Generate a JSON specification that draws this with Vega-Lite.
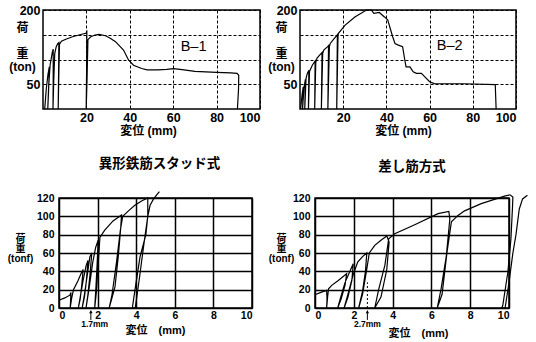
{
  "$schema": "https://vega.github.io/schema/vega-lite/v6.json",
  "autosize": {"type": "none"},
  "padding": {"left": 43, "top": 10, "right": 493, "bottom": 332},
  "background": "white",
  "config": {
    "view": {"stroke": "black", "strokeWidth": 1.5},
    "axis": {"domain": false, "ticks": false, "grid": true, "tickCount": 20, "format": "d", "labelOverlap": false, "labelColor": "black", "titleColor": "black", "gridColor": "black", "gridOpacity": 1, "labelFont": "Liberation Sans", "labelFontWeight": "bold", "titleFont": "Liberation Sans, Noto Sans CJK JP", "titleFontWeight": "bold"}
  },
  "datasets": {
    "b1": [
      {"x":0.8,"y":0},{"x":1.5,"y":40},{"x":2.3,"y":70},{"x":2.9,"y":85},{"x":2.6,"y":40},{"x":2.2,"y":0},{"x":2.6,"y":45},{"x":3.3,"y":90},{"x":3.8,"y":102},{"x":4.3,"y":115},{"x":4.7,"y":121},{"x":4.7,"y":60},{"x":4.6,"y":0},{"x":4.9,"y":50},{"x":5.4,"y":112},{"x":6.1,"y":126},{"x":6.8,"y":132},{"x":7.3,"y":134},{"x":7.2,"y":80},{"x":7.0,"y":0},{"x":7.3,"y":70},{"x":7.6,"y":131},{"x":8.5,"y":137},{"x":10.5,"y":141},{"x":13.6,"y":146},{"x":17,"y":150},{"x":19.7,"y":153},{"x":20.2,"y":156},{"x":20.1,"y":80},{"x":19.9,"y":0},{"x":20.3,"y":60},{"x":20.7,"y":140},{"x":22,"y":146},{"x":24,"y":149.5},{"x":25.8,"y":150.7},{"x":28.8,"y":148},{"x":31,"y":143},{"x":33.4,"y":136},{"x":37.1,"y":119},{"x":39.4,"y":99},{"x":41.7,"y":88.5},{"x":45.5,"y":81.8},{"x":48,"y":79},{"x":53,"y":79},{"x":57,"y":80},{"x":60.2,"y":81.5},{"x":65,"y":79},{"x":70,"y":76},{"x":80,"y":74},{"x":86.5,"y":73},{"x":89.4,"y":72},{"x":90.2,"y":68},{"x":90.1,"y":40},{"x":89.6,"y":0}
    ],
    "b2": [
      {"x":0.3,"y":0},{"x":1,"y":30},{"x":1.5,"y":45},{"x":1.2,"y":0},{"x":1.8,"y":42},{"x":2.5,"y":60},{"x":2.2,"y":0},{"x":2.8,"y":62},{"x":3.4,"y":72},{"x":4.1,"y":78},{"x":3.9,"y":0},{"x":4.4,"y":76},{"x":5.7,"y":88.5},{"x":7.0,"y":97},{"x":6.8,"y":0},{"x":7.3,"y":94},{"x":7.9,"y":103},{"x":9.5,"y":111},{"x":10.2,"y":114},{"x":9.9,"y":0},{"x":10.5,"y":112},{"x":11,"y":119},{"x":12.8,"y":126},{"x":13.2,"y":128},{"x":12.9,"y":0},{"x":13.6,"y":126},{"x":14,"y":132.5},{"x":16,"y":143},{"x":17.3,"y":150},{"x":17,"y":0},{"x":17.6,"y":148},{"x":17.8,"y":152.8},{"x":20.9,"y":169.6},{"x":25.4,"y":186},{"x":30.8,"y":200},{"x":33,"y":200},{"x":34.2,"y":193},{"x":36.7,"y":195},{"x":39.1,"y":186},{"x":40.6,"y":180},{"x":42.9,"y":146},{"x":44,"y":132},{"x":45.5,"y":129},{"x":47.5,"y":126},{"x":48.4,"y":102},{"x":49.1,"y":85},{"x":50.9,"y":85},{"x":52.4,"y":75},{"x":53.9,"y":72},{"x":56.2,"y":72},{"x":57.8,"y":65},{"x":60,"y":55},{"x":62.2,"y":51.4},{"x":76,"y":51},{"x":90.4,"y":49.4},{"x":90.8,"y":0}
    ],
    "p3": [
      {"x":0,"y":8.4},{"x":0.3,"y":11},{"x":0.56,"y":14},{"x":0.62,"y":17},{"x":0.6,"y":8},{"x":0.58,"y":0},{"x":0.65,"y":10},{"x":0.75,"y":20},{"x":0.99,"y":30},{"x":1.15,"y":38},{"x":1.25,"y":42},{"x":1.18,"y":25},{"x":1.1,"y":10},{"x":1.0,"y":0},{"x":1.1,"y":12},{"x":1.25,"y":30},{"x":1.4,"y":46},{"x":1.5,"y":52},{"x":1.42,"y":30},{"x":1.32,"y":12},{"x":1.2,"y":0},{"x":1.32,"y":15},{"x":1.48,"y":38},{"x":1.6,"y":56},{"x":1.7,"y":60},{"x":1.6,"y":35},{"x":1.5,"y":15},{"x":1.4,"y":0},{"x":1.55,"y":20},{"x":1.75,"y":50},{"x":1.9,"y":66},{"x":2.03,"y":74},{"x":1.98,"y":50},{"x":1.92,"y":25},{"x":1.85,"y":0},{"x":1.95,"y":20},{"x":2.05,"y":55},{"x":2.12,"y":77},{"x":2.37,"y":85},{"x":2.8,"y":95},{"x":3.24,"y":101.4},{"x":3.2,"y":88},{"x":3.07,"y":56},{"x":2.9,"y":23},{"x":2.6,"y":0},{"x":2.75,"y":15},{"x":2.98,"y":50},{"x":3.18,"y":85},{"x":3.3,"y":100},{"x":3.6,"y":106},{"x":3.93,"y":112},{"x":4.3,"y":117},{"x":4.6,"y":120},{"x":4.6,"y":100},{"x":4.5,"y":80},{"x":4.2,"y":56},{"x":3.93,"y":19},{"x":3.8,"y":0},{"x":3.95,"y":0},{"x":4.15,"y":30},{"x":4.4,"y":70},{"x":4.6,"y":100},{"x":4.72,"y":112},{"x":4.9,"y":119},{"x":5.2,"y":127}
    ],
    "p4": [
      {"x":0,"y":14.5},{"x":0.3,"y":17},{"x":0.6,"y":19.2},{"x":0.62,"y":10},{"x":0.6,"y":0},{"x":0.65,"y":12},{"x":0.7,"y":21},{"x":0.86,"y":24.7},{"x":1.2,"y":30},{"x":1.63,"y":37.4},{"x":1.55,"y":25},{"x":1.35,"y":10},{"x":1.17,"y":0},{"x":1.3,"y":10},{"x":1.55,"y":28},{"x":1.8,"y":40},{"x":1.97,"y":48.3},{"x":1.9,"y":30},{"x":1.7,"y":12},{"x":1.5,"y":0},{"x":1.7,"y":15},{"x":1.95,"y":35},{"x":2.2,"y":50},{"x":2.45,"y":56},{"x":2.67,"y":60},{"x":2.6,"y":40},{"x":2.45,"y":18},{"x":2.25,"y":0},{"x":2.45,"y":15},{"x":2.65,"y":40},{"x":2.8,"y":60},{"x":3.08,"y":68.3},{"x":3.4,"y":74},{"x":3.7,"y":78.5},{"x":3.82,"y":72},{"x":3.7,"y":42},{"x":3.4,"y":12},{"x":3.08,"y":0},{"x":3.28,"y":20},{"x":3.6,"y":46.5},{"x":3.8,"y":75.6},{"x":4.11,"y":81},{"x":5.14,"y":90.9},{"x":6.34,"y":102.9},{"x":6.9,"y":105.4},{"x":6.95,"y":97},{"x":6.77,"y":57},{"x":6.5,"y":21},{"x":6.3,"y":0},{"x":6.55,"y":15},{"x":6.8,"y":60},{"x":7.03,"y":94},{"x":7.37,"y":101},{"x":7.71,"y":106},{"x":8.57,"y":113.8},{"x":9.77,"y":122},{"x":10.05,"y":123.5},{"x":10.2,"y":121},{"x":10.18,"y":110},{"x":10.1,"y":75.6},{"x":9.94,"y":39},{"x":9.68,"y":3},{"x":9.63,"y":0},{"x":9.8,"y":0},{"x":10.0,"y":28},{"x":10.2,"y":60},{"x":10.36,"y":80},{"x":10.53,"y":108},{"x":10.7,"y":119},{"x":10.95,"y":123}
    ]
  },
  "spacing": 0,
  "bounds": "flush",
  "vconcat": [
    {
      "spacing": 40,
      "bounds": "flush",
      "hconcat": [
        {
          "width": 217, "height": 99,
          "layer": [
            {
              "data": {"name": "b1"},
              "mark": {"type": "line", "color": "black", "strokeWidth": 1.2},
              "encoding": {
                "x": {"field": "x", "type": "quantitative", "scale": {"domain": [0, 100], "nice": false, "zero": false},
                  "axis": {"values": [20, 40, 60, 80, 100], "tickCount": 20, "gridDash": [3, 2], "gridWidth": 1, "labelFontSize": 12.5, "labelPadding": 2, "title": "変位 (mm)", "titleFontSize": 12, "titleX": 105, "titleY": 16, "titleAlign": "center", "titleBaseline": "top"}},
                "y": {"field": "y", "type": "quantitative", "scale": {"domain": [0, 200], "nice": false},
                  "axis": {"values": [50, 100, 150, 200], "tickCount": 20, "gridDash": [3, 2], "gridWidth": 1, "labelExpr": "datum.value == 200 || datum.value == 50 ? datum.label : ''", "labelFontSize": 12.5, "labelPadding": 3, "title": ["荷", "\u200b", "重", "(ton)"], "titleAngle": 0, "titleAlign": "center", "titleBaseline": "top", "titleX": -21, "titleY": 12, "titleLineHeight": 13, "titleFontSize": 12}},
                "order": {"value": null}
              }
            },
            {
              "data": {"values": [{"x": 69.4, "y": 125, "label": "B–1"}]},
              "mark": {"type": "text", "font": "Liberation Sans", "fontSize": 14.5, "color": "black"},
              "encoding": {"x": {"field": "x", "type": "quantitative"}, "y": {"field": "y", "type": "quantitative"}, "text": {"field": "label"}}
            }
          ]
        },
        {
          "width": 216, "height": 99,
          "layer": [
            {
              "data": {"name": "b2"},
              "mark": {"type": "line", "color": "black", "strokeWidth": 1.2},
              "encoding": {
                "x": {"field": "x", "type": "quantitative", "scale": {"domain": [0, 100], "nice": false, "zero": false},
                  "axis": {"values": [20, 40, 60, 80, 100], "tickCount": 20, "gridDash": [3, 2], "gridWidth": 1, "labelFontSize": 12.5, "labelPadding": 2, "title": "変位 (mm)", "titleFontSize": 12, "titleX": 103, "titleY": 16, "titleAlign": "center", "titleBaseline": "top"}},
                "y": {"field": "y", "type": "quantitative", "scale": {"domain": [0, 200], "nice": false},
                  "axis": {"values": [50, 100, 150, 200], "tickCount": 20, "gridDash": [3, 2], "gridWidth": 1, "labelExpr": "datum.value == 200 || datum.value == 50 ? datum.label : ''", "labelFontSize": 12.5, "labelPadding": 3, "title": ["荷", "\u200b", "重", "(ton)"], "titleAngle": 0, "titleAlign": "center", "titleBaseline": "top", "titleX": -19, "titleY": 12, "titleLineHeight": 13, "titleFontSize": 12}},
                "order": {"value": null}
              }
            },
            {
              "data": {"values": [{"x": 69.3, "y": 127, "label": "B–2"}]},
              "mark": {"type": "text", "font": "Liberation Sans", "fontSize": 14.5, "color": "black"},
              "encoding": {"x": {"field": "x", "type": "quantitative"}, "y": {"field": "y", "type": "quantitative"}, "text": {"field": "label"}}
            }
          ]
        }
      ]
    },
    {"width": 1, "height": 188, "data": {"values": []}, "mark": "text", "view": {"stroke": null}},
    {
      "spacing": 15,
      "bounds": "flush",
      "hconcat": [
        {"width": 1, "height": 110, "data": {"values": []}, "mark": "text", "view": {"stroke": null}},
        {
          "spacing": 63,
          "bounds": "flush",
          "hconcat": [
            {
              "width": 193, "height": 110,
              "title": {"text": "異形鉄筋スタッド式", "font": "Noto Sans CJK JP", "fontSize": 13.5, "fontWeight": "bold", "anchor": "middle", "frame": "group", "offset": 19, "dx": 4, "color": "black"},
              "layer": [
                {
                  "data": {"name": "p3"},
                  "mark": {"type": "line", "color": "black", "strokeWidth": 1.2},
                  "encoding": {
                    "x": {"field": "x", "type": "quantitative", "scale": {"domain": [0, 10], "nice": false, "zero": false},
                      "axis": {"values": [0, 2, 4, 6, 8, 10], "tickCount": 20, "gridWidth": 1.5, "labelFontSize": 10.5, "labelPadding": 2, "title": "変位　(mm)", "titleFontSize": 11, "titleX": 96, "titleY": 16, "titleAlign": "center", "titleBaseline": "top"}},
                    "y": {"field": "y", "type": "quantitative", "scale": {"domain": [0, 120], "nice": false},
                      "axis": {"values": [0, 20, 40, 60, 80, 100, 120], "tickCount": 20, "gridWidth": 1.5, "labelFontSize": 10.5, "labelPadding": 5, "title": ["荷", "重", "(tonf)"], "titleAngle": 0, "titleAlign": "center", "titleBaseline": "top", "titleX": -39, "titleY": 35, "titleLineHeight": 10, "titleFontSize": 10}},
                    "order": {"value": null}
                  }
                },
                {
                  "data": {"values": [{"x": 1.65, "y": -3, "y2": -13}]},
                  "mark": {"type": "rule", "color": "black", "strokeWidth": 1},
                  "encoding": {"x": {"field": "x", "type": "quantitative"}, "y": {"field": "y", "type": "quantitative"}, "y2": {"field": "y2"}}
                },
                {
                  "data": {"values": [{"x": 1.65, "y": -4}]},
                  "mark": {"type": "point", "shape": "triangle-up", "filled": true, "color": "black", "size": 12, "opacity": 1},
                  "encoding": {"x": {"field": "x", "type": "quantitative"}, "y": {"field": "y", "type": "quantitative"}}
                },
                {
                  "data": {"values": [{"x": 1.85, "y": -17.5, "label": "1.7mm"}]},
                  "mark": {"type": "text", "font": "Liberation Sans", "fontWeight": "bold", "fontSize": 8.5, "color": "black"},
                  "encoding": {"x": {"field": "x", "type": "quantitative"}, "y": {"field": "y", "type": "quantitative"}, "text": {"field": "label"}}
                }
              ]
            },
            {
              "width": 194, "height": 110,
              "title": {"text": "差し筋方式", "font": "Noto Sans CJK JP", "fontSize": 13.5, "fontWeight": "bold", "anchor": "middle", "frame": "group", "offset": 19, "color": "black"},
              "layer": [
                {
                  "data": {"name": "p4"},
                  "mark": {"type": "line", "color": "black", "strokeWidth": 1.2},
                  "encoding": {
                    "x": {"field": "x", "type": "quantitative", "scale": {"domain": [0, 10], "nice": false, "zero": false},
                      "axis": {"values": [0, 2, 4, 6, 8, 10], "tickCount": 20, "gridWidth": 1.5, "labelFontSize": 10.5, "labelPadding": 2, "title": "変位　(mm)", "titleFontSize": 11, "titleX": 103, "titleY": 19, "titleAlign": "center", "titleBaseline": "top"}},
                    "y": {"field": "y", "type": "quantitative", "scale": {"domain": [0, 120], "nice": false},
                      "axis": {"values": [0, 20, 40, 60, 80, 100, 120], "tickCount": 20, "gridWidth": 1.5, "labelFontSize": 10.5, "labelPadding": 5, "title": ["荷", "重", "(tonf)"], "titleAngle": 0, "titleAlign": "center", "titleBaseline": "top", "titleX": -34, "titleY": 35, "titleLineHeight": 10, "titleFontSize": 10}},
                    "order": {"value": null}
                  }
                },
                {
                  "data": {"values": [{"x": 2.7, "y": 0, "y2": 28}]},
                  "mark": {"type": "rule", "color": "black", "strokeWidth": 1, "strokeDash": [2, 2]},
                  "encoding": {"x": {"field": "x", "type": "quantitative"}, "y": {"field": "y", "type": "quantitative"}, "y2": {"field": "y2"}}
                },
                {
                  "data": {"values": [{"x": 2.7, "y": -3, "y2": -13}]},
                  "mark": {"type": "rule", "color": "black", "strokeWidth": 1},
                  "encoding": {"x": {"field": "x", "type": "quantitative"}, "y": {"field": "y", "type": "quantitative"}, "y2": {"field": "y2"}}
                },
                {
                  "data": {"values": [{"x": 2.7, "y": -4}]},
                  "mark": {"type": "point", "shape": "triangle-up", "filled": true, "color": "black", "size": 12, "opacity": 1},
                  "encoding": {"x": {"field": "x", "type": "quantitative"}, "y": {"field": "y", "type": "quantitative"}}
                },
                {
                  "data": {"values": [{"x": 2.7, "y": -17.5, "label": "2.7mm"}]},
                  "mark": {"type": "text", "font": "Liberation Sans", "fontWeight": "bold", "fontSize": 8.5, "color": "black"},
                  "encoding": {"x": {"field": "x", "type": "quantitative"}, "y": {"field": "y", "type": "quantitative"}, "text": {"field": "label"}}
                }
              ]
            }
          ]
        }
      ]
    }
  ]
}
